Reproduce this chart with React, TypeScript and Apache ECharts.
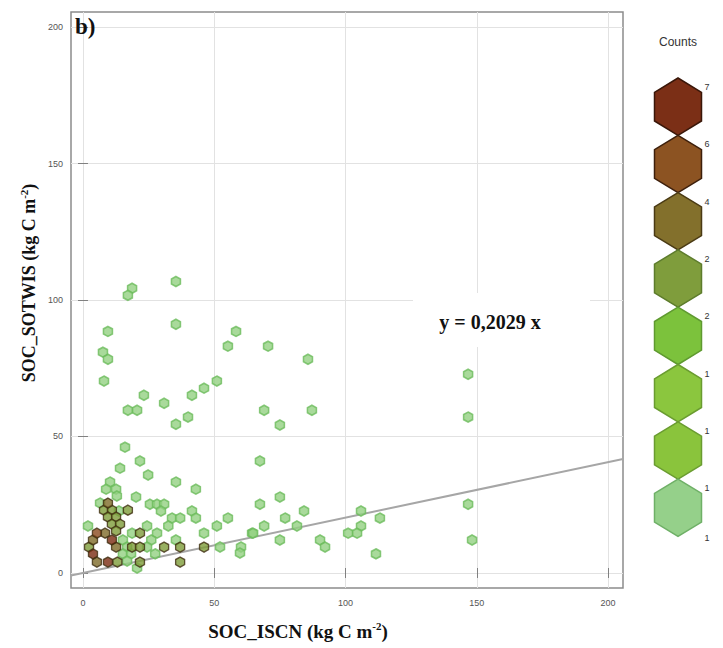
import React, { useEffect, useRef } from "react";
import * as echarts from "echarts";

// Hexagonal bins: centre (x, y) in kg C m-2 and the number of profiles in the bin
const binX = [
  18.7, 17.1, 35.4, 35.4, 9.5, 7.6, 9.5, 8.0, 58.3, 55.2, 70.5, 85.7, 51.0, 46.1, 41.5, 23.2, 30.9, 17.1, 20.6, 69.0,
  87.2, 40.0, 35.4, 75.0, 146.7, 146.7, 67.4, 75.0, 67.4, 84.2, 77.0, 69.0, 81.5, 64.4, 75.0, 90.3, 92.2, 105.9, 113.1, 105.9,
  101.0, 104.4, 111.6, 146.7, 148.2, 16.0, 21.7, 14.1, 24.8, 35.4, 43.0, 10.3, 12.6, 8.8, 6.5, 20.2, 25.5, 28.2, 30.9, 29.7,
  33.9, 37.0, 41.5, 43.0, 55.2, 51.0, 46.1, 60.2, 64.8, 59.8, 52.2, 1.9, 18.7, 28.2, 35.4, 20.6, 15.2, 16.8, 15.2, 18.3,
  16.8, 24.4, 26.0, 27.5, 24.4, 32.5, 13.7, 12.9,
  17.1, 21.7, 18.7, 21.7, 30.9, 37.0, 46.1, 21.7, 37.0,
  9.5, 8.0, 11.0, 9.5, 12.6, 11.0, 14.1, 12.6,
  5.3, 8.4, 3.8, 11.0, 2.3, 12.6, 3.8, 5.3, 9.5, 13.1,
];
const binY = [
  104.3, 101.7, 106.8, 91.1, 88.5, 80.9, 78.3, 70.3, 88.5, 83.1, 83.1, 78.3, 70.3, 67.7, 65.1, 65.1, 62.2, 59.6, 59.6, 59.6,
  59.6, 57.1, 54.5, 54.2, 72.8, 57.1, 41.0, 27.8, 25.2, 22.7, 20.1, 17.2, 17.2, 14.6, 12.1, 12.1, 9.5, 22.7, 20.1, 17.2,
  14.6, 14.6, 7.0, 25.2, 12.1, 46.1, 41.0, 38.4, 35.9, 33.3, 30.7, 33.3, 30.7, 30.7, 25.6, 27.8, 25.2, 25.2, 25.2, 22.7,
  20.1, 20.1, 22.7, 20.1, 20.1, 17.2, 14.6, 9.5, 14.6, 7.3, 9.5, 17.2, 14.6, 14.6, 12.1, 1.8, 12.1, 9.5, 7.0, 7.0,
  4.4, 17.2, 12.1, 7.0, 9.5, 17.2, 22.7, 28.2,
  23.0, 14.6, 9.5, 9.5, 9.5, 9.5, 9.5, 4.0, 4.0,
  25.6, 23.0, 23.0, 20.5, 20.5, 17.9, 17.9, 15.4,
  14.6, 14.6, 12.1, 12.1, 9.5, 9.5, 7.0, 4.0, 4.0, 4.0,
];
const binCount = [
  1, 1, 1, 1, 1, 1, 1, 1, 1, 1, 1, 1, 1, 1, 1, 1, 1, 1, 1, 1,
  1, 1, 1, 1, 1, 1, 1, 1, 1, 1, 1, 1, 1, 1, 1, 1, 1, 1, 1, 1,
  1, 1, 1, 1, 1, 1, 1, 1, 1, 1, 1, 1, 1, 1, 1, 1, 1, 1, 1, 1,
  1, 1, 1, 1, 1, 1, 1, 1, 1, 1, 1, 1, 1, 1, 1, 1, 1, 1, 1, 1,
  1, 1, 1, 1, 1, 1, 1, 1,
  2, 2, 2, 2, 2, 2, 2, 2, 2,
  4, 2, 2, 2, 2, 2, 2, 2,
  6, 4, 4, 7, 2, 4, 7, 4, 7, 2,
];

const xTicks = [0, 50, 100, 150, 200];
const yTicks = [0, 50, 100, 150, 200];
const X_MIN = -4.57;
const X_MAX = 205.7;
const Y_MIN = -5.5;
const Y_MAX = 205.5;

// Zero-intercept regression through the bins
const FIT_SLOPE = 0.2029;
const fitLabel = "y = 0,2029 x";

// Colour key: labels printed beside the legend hexagons (top to bottom)
const legendLabels = ["7", "6", "4", "2", "2", "1", "1", "1", "1"];
const legendFill = ["#7b2f16", "#8c5322", "#83702c", "#7f9d3c", "#7cc23c", "#8bc63e", "#8ac43c", "#95d08a"];
const legendBorder = ["#3a1709", "#3d1f0b", "#4a3a14", "#5d7c2c", "#5f9a30", "#6a9c30", "#6a9c30", "#6fb067"];

function countFill(c: number): string {
  if (c >= 7) return "#7a2a12";
  if (c >= 5) return "#8a4a1e";
  if (c >= 3) return "#7e6a28";
  if (c >= 2) return "#7e9c3a";
  return "#93d182";
}
function countBorder(c: number): string {
  if (c >= 2) return "#3e2e10";
  return "#6cbb5b";
}

const HEX_PATH = "path://M0 -10 L8.66 -5 L8.66 5 L0 10 L-8.66 5 L-8.66 -5 Z";

function hexPoints(cx: number, cy: number, w: number, h: number): number[][] {
  const hw = w / 2;
  return [
    [cx, cy - h / 2],
    [cx + hw, cy - h / 4],
    [cx + hw, cy + h / 4],
    [cx, cy + h / 2],
    [cx - hw, cy + h / 4],
    [cx - hw, cy - h / 4],
  ];
}

const SERIF = "'Liberation Serif', 'DejaVu Serif', serif";
const SANS = "'Liberation Sans', Arial, sans-serif";

export default function App() {
  const ref = useRef<HTMLDivElement>(null);

  useEffect(() => {
    if (!ref.current) return;
    const chart = echarts.init(ref.current, undefined, { renderer: "svg" });

    const bins = binX.map((x, i) => ({
      value: [x, binY[i], binCount[i]],
      itemStyle: {
        color: countFill(binCount[i]),
        borderColor: countBorder(binCount[i]),
        borderWidth: binCount[i] >= 2 ? 1.4 : 1.6,
      },
    }));
    // draw the denser bins last so they sit on top
    bins.sort((a, b) => a.value[2] - b.value[2]);

    const legendGraphics: any[] = [];
    const hexW = 47;
    const hexH = 57.3;
    const legTop = 78;
    const legCx = 678;
    legendFill.forEach((fill, i) => {
      legendGraphics.push({
        type: "polygon",
        shape: { points: hexPoints(legCx, legTop + hexH * i + hexH / 2, hexW, hexH) },
        style: { fill, stroke: legendBorder[i], lineWidth: 1.5 },
        z: 10,
      });
    });
    legendLabels.forEach((t, i) => {
      legendGraphics.push({
        type: "text",
        x: 707,
        y: legTop + hexH * i + (i === legendLabels.length - 1 ? 2 : 9),
        style: { text: t, font: `9px ${SANS}`, fill: "#333", textAlign: "center", textVerticalAlign: "middle" },
        z: 10,
      });
    });

    const option: any = {
      animation: false,
      backgroundColor: "#ffffff",
      grid: {
        left: 71,
        right: 100,
        top: 12,
        bottom: 60,
        show: true,
        borderColor: "#8c8c8c",
        borderWidth: 1.5,
        backgroundColor: "transparent",
      },
      xAxis: [
        {
          type: "value",
          position: "bottom",
          min: X_MIN,
          max: X_MAX,
          axisLine: { show: false },
          axisTick: { show: true, customValues: xTicks, length: 5, lineStyle: { color: "#808080" } },
          axisLabel: { customValues: xTicks, fontSize: 9, color: "#555", margin: 10, fontFamily: SANS },
          splitLine: { show: true, lineStyle: { color: "#e2e2e2", width: 1 } },
        },
        {
          type: "value",
          position: "top",
          min: X_MIN,
          max: X_MAX,
          axisLine: { show: false },
          axisTick: { show: true, customValues: xTicks, length: 5, lineStyle: { color: "#808080" } },
          axisLabel: { show: false },
          splitLine: { show: false },
        },
      ],
      yAxis: [
        {
          type: "value",
          position: "left",
          min: Y_MIN,
          max: Y_MAX,
          axisLine: { show: false },
          axisTick: { show: true, customValues: yTicks, length: 5, lineStyle: { color: "#808080" } },
          axisLabel: { customValues: yTicks, fontSize: 9, color: "#555", margin: 8, fontFamily: SANS },
          splitLine: { show: true, lineStyle: { color: "#e2e2e2", width: 1 } },
        },
        {
          type: "value",
          position: "right",
          min: Y_MIN,
          max: Y_MAX,
          axisLine: { show: false },
          axisTick: { show: true, customValues: yTicks, length: 5, lineStyle: { color: "#808080" } },
          axisLabel: { show: false },
          splitLine: { show: false },
        },
      ],
      series: [
        {
          type: "line",
          xAxisIndex: 0,
          yAxisIndex: 0,
          data: [
            [X_MIN, FIT_SLOPE * X_MIN],
            [X_MAX, FIT_SLOPE * X_MAX],
          ],
          symbol: "none",
          lineStyle: { color: "#a6a6a6", width: 2 },
          silent: true,
          z: 2,
        },
        {
          type: "scatter",
          xAxisIndex: 0,
          yAxisIndex: 0,
          symbol: HEX_PATH,
          symbolSize: [9, 10],
          data: bins,
          z: 3,
        },
      ],
      graphic: [
        {
          type: "rect",
          shape: { x: 413, y: 293, width: 177, height: 54 },
          style: { fill: "#ffffff" },
          z: 5,
        },
        {
          type: "text",
          x: 490,
          y: 322,
          style: {
            text: fitLabel,
            font: `bold 20px ${SERIF}`,
            fill: "#111",
            textAlign: "center",
            textVerticalAlign: "middle",
          },
          z: 6,
        },
        {
          type: "text",
          x: 75,
          y: 15,
          style: { text: "b)", font: `bold 23px ${SERIF}`, fill: "#111", textAlign: "left", textVerticalAlign: "top" },
          z: 6,
        },
        {
          type: "text",
          x: 298,
          y: 631,
          style: {
            text: "{a|SOC_ISCN (kg C m}{s|-2}{a|)}",
            textAlign: "center",
            textVerticalAlign: "middle",
            rich: {
              a: { font: `bold 19px ${SERIF}`, fill: "#111", lineHeight: 22 },
              s: { font: `bold 11px ${SERIF}`, fill: "#111", verticalAlign: "top", lineHeight: 22, padding: [0, 0, 8, 0] },
            },
          },
          z: 6,
        },
        {
          type: "text",
          x: 29,
          y: 283,
          rotation: Math.PI / 2,
          style: {
            text: "{a|SOC_SOTWIS (kg C m}{s|-2}{a|)}",
            textAlign: "center",
            textVerticalAlign: "middle",
            rich: {
              a: { font: `bold 18px ${SERIF}`, fill: "#111", lineHeight: 22 },
              s: { font: `bold 11px ${SERIF}`, fill: "#111", verticalAlign: "top", lineHeight: 22, padding: [0, 0, 8, 0] },
            },
          },
          z: 6,
        },
        {
          type: "text",
          x: 678,
          y: 42,
          style: { text: "Counts", font: `12px ${SANS}`, fill: "#333", textAlign: "center", textVerticalAlign: "middle" },
          z: 10,
        },
        ...legendGraphics,
      ],
    };

    chart.setOption(option);
    return () => chart.dispose();
  }, []);

  return (
    <div
      ref={ref}
      style={{ position: "fixed", left: 0, top: 0, width: 723, height: 648, background: "#fff" }}
    />
  );
}
